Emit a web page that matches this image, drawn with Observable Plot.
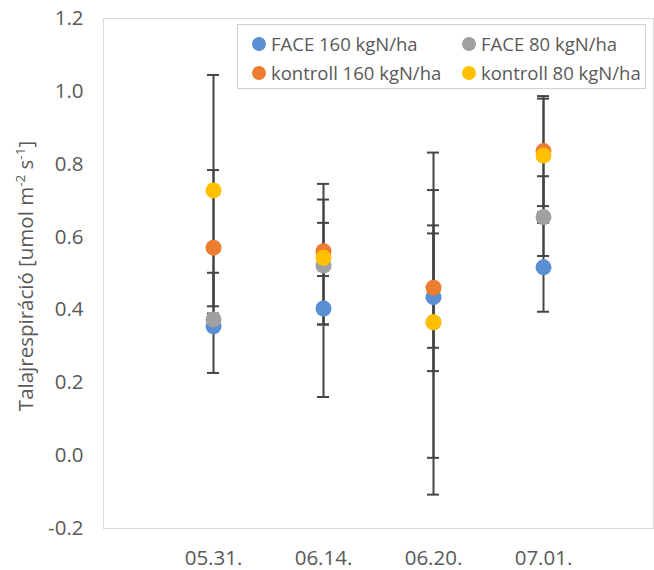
<!DOCTYPE html>
<html>
<head>
<meta charset="utf-8">
<script src="https://cdn.jsdelivr.net/npm/d3@7"></script>
<script src="https://cdn.jsdelivr.net/npm/@observablehq/plot@0.6"></script>
<style>
  html, body { margin: 0; padding: 0; background: #fff; }
  #wrap { position: relative; width: 654px; height: 570px; overflow: hidden; font-family: "Open Sans", sans-serif; }
  #legend { position: absolute; left: 237px; top: 24px; width: 409px; height: 65px; border: 1px solid #d0d0d0; background: #fff; box-sizing: border-box; }
  .item { position: absolute; display: flex; align-items: center; font-size: 18.5px; color: #595959; white-space: nowrap; line-height: 1; }
  .sw { width: 14px; height: 14px; border-radius: 50%; margin-right: 5px; flex: none; }
</style>
</head>
<body>
<div id="wrap"></div>
<script>
const dates = ["05.31.", "06.14.", "06.20.", "07.01."];
const seriesNames = ["FACE 160 kgN/ha", "FACE 80 kgN/ha", "kontroll 160 kgN/ha", "kontroll 80 kgN/ha"];
const seriesColors = ["#5B8FD3", "#A0A0A0", "#ED7D31", "#FFC000"];

const face160 = [0.355, 0.404, 0.435, 0.517];
const face160Low = [0.227, 0.161, 0.232, 0.395];
const face160High = [0.502, 0.639, 0.632, 0.639];

const face80 = [0.374, 0.522, 0.366, 0.655];
const face80Low = [0.360, 0.493, -0.006, 0.548];
const face80High = [0.390, 0.551, 0.729, 0.767];

const kontroll160 = [0.571, 0.561, 0.461, 0.836];
const kontroll160Low = [0.358, 0.360, 0.296, 0.685];
const kontroll160High = [0.784, 0.746, 0.610, 0.987];

const kontroll80 = [0.728, 0.543, 0.366, 0.824];
const kontroll80Low = [0.410, 0.360, -0.107, 0.668];
const kontroll80High = [1.045, 0.703, 0.832, 0.980];

const yTicks = [-0.2, 0, 0.2, 0.4, 0.6, 0.8, 1.0, 1.2];

const values = [face160, face80, kontroll160, kontroll80];
const lows = [face160Low, face80Low, kontroll160Low, kontroll80Low];
const highs = [face160High, face80High, kontroll160High, kontroll80High];

const rows = seriesNames.flatMap((s, i) => dates.map((d, j) => ({
  series: s, date: d, value: values[i][j], low: lows[i][j], high: highs[i][j]
})));

const barColor = "#454545";

const chart = Plot.plot({
  width: 654,
  height: 570,
  marginLeft: 103,
  marginRight: 1,
  marginTop: 18,
  marginBottom: 42,
  style: { fontFamily: "Open Sans, sans-serif", fontSize: "20.5px", color: "#595959", background: "#fff" },
  x: { type: "band", domain: dates, paddingInner: 0.89, paddingOuter: 0.945, label: null },
  y: { domain: [-0.2, 1.2], label: null },
  color: { domain: seriesNames, range: seriesColors },
  marks: [
    Plot.frame({ stroke: "#d9d9d9", strokeWidth: 1 }),
    Plot.axisY({ ticks: yTicks, tickSize: 0, tickPadding: 20, tickFormat: d => d.toFixed(1), fontSize: 20.5 }),
    Plot.axisX({ tickSize: 0, tickPadding: 22, fontSize: 20.5 }),
    Plot.ruleX(rows, { x: "date", y1: "low", y2: "high", stroke: barColor, strokeWidth: 2 }),
    Plot.tickY(rows, { x: "date", y: "low", stroke: barColor, strokeWidth: 2 }),
    Plot.tickY(rows, { x: "date", y: "high", stroke: barColor, strokeWidth: 2 }),
    Plot.dot(rows, { x: "date", y: "value", fill: "series", r: 8, stroke: "none" })
  ]
});

const wrap = document.getElementById("wrap");
wrap.appendChild(chart);

// Y axis title with superscripts
const svg = d3.select(chart);
const t = svg.append("text")
  .attr("transform", "translate(33,276) rotate(-90)")
  .attr("text-anchor", "middle")
  .attr("fill", "#595959")
  .style("font-family", "Open Sans, sans-serif")
  .style("font-size", "20.5px");
t.append("tspan").text("Talajrespiráció [umol m");
t.append("tspan").attr("dy", "-8").style("font-size", "13.5px").text("-2");
t.append("tspan").attr("dy", "8").text(" s");
t.append("tspan").attr("dy", "-8").style("font-size", "13.5px").text("-1");
t.append("tspan").attr("dy", "8").text("]");

// Legend
const legend = document.createElement("div");
legend.id = "legend";
wrap.appendChild(legend);
const pos = [[14, 10], [224, 10], [14, 39], [224, 39]];
seriesNames.forEach((s, i) => {
  const it = document.createElement("div");
  it.className = "item";
  it.style.left = pos[i][0] + "px";
  it.style.top = pos[i][1] + "px";
  const sw = document.createElement("span");
  sw.className = "sw";
  sw.style.background = seriesColors[i];
  const tx = document.createElement("span");
  tx.textContent = s;
  it.appendChild(sw);
  it.appendChild(tx);
  legend.appendChild(it);
});
</script>
</body>
</html>
